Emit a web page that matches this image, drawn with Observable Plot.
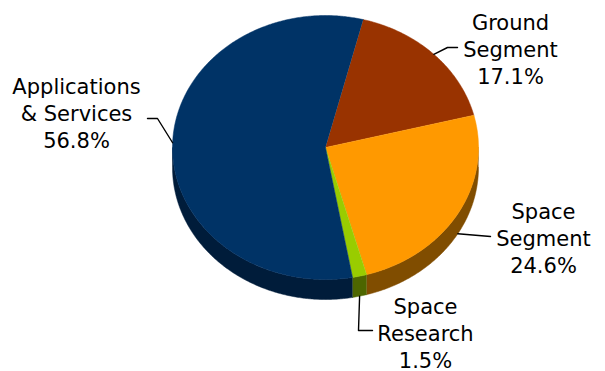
<!DOCTYPE html>
<html>
<head>
<meta charset="utf-8">
<script src="https://cdn.jsdelivr.net/npm/d3@7"></script>
<script src="https://cdn.jsdelivr.net/npm/@observablehq/plot@0.6"></script>
<style>
  html, body { margin: 0; padding: 0; background: #fff; }
</style>
</head>
<body>
<div id="chart"></div>
<script>
// ---- data ----
const categories = ["Ground Segment", "Space Segment", "Space Research", "Applications & Services"];
const shares = [17.1, 24.6, 1.5, 56.8];
const labelNames = ["Ground\nSegment", "Space\nSegment", "Space\nResearch", "Applications\n& Services"];
const topColors = ["#993300", "#FF9900", "#99CC00", "#003366"];
const sideColors = ["#4D1A00", "#804D00", "#4D6600", "#001C3A"];

// ---- layout ----
const W = 605, H = 371;
const cx = 325, cy = 147, rx = 153, ry = 132, depth = 20;
const startAngle = 14.3; // degrees clockwise from 12 o'clock
// label centre and leader elbow/end per slice (layout only)
const labelPos = [[510, 48], [543, 237], [425, 332], [76, 112]];
const leaderBend = [[[447, 47], [457, 47]], [[490, 236]], [[358, 330], [372, 330]], [[157, 118], [147, 118]]];

function pt(deg, dy = 0) {
  const r = deg * Math.PI / 180;
  return [cx + rx * Math.sin(r), cy - ry * Math.cos(r) + dy];
}

const total = d3.sum(shares);
let acc = startAngle;
const slices = categories.map((c, i) => {
  const a0 = acc, a1 = acc + shares[i] / total * 360;
  acc = a1;
  return {c, i, a0, a1, mid: (a0 + a1) / 2};
});

function arcPts(a0, a1, dy = 0) {
  const n = Math.max(2, Math.ceil((a1 - a0) / 0.5));
  return d3.range(n + 1).map(k => pt(a0 + (a1 - a0) * k / n, dy));
}

const marks = [];
// sides (only front half, 90..270 deg)
for (const s of slices) {
  for (const off of [0, 360, -360]) {
    const b0 = Math.max(s.a0 + off, 90), b1 = Math.min(s.a1 + off, 270);
    if (b1 > b0) {
      const poly = [...arcPts(b0, b1), ...arcPts(b0, b1, depth).reverse()];
      marks.push(Plot.line(poly, {x: d => d[0], y: d => d[1], fill: sideColors[s.i], stroke: sideColors[s.i], strokeWidth: 0.5}));
    }
  }
}
// top faces
for (const s of slices) {
  const poly = [[cx, cy], ...arcPts(s.a0, s.a1)];
  marks.push(Plot.line(poly, {x: d => d[0], y: d => d[1], fill: topColors[s.i], stroke: topColors[s.i], strokeWidth: 0.5}));
}
// leaders
for (const s of slices) {
  let m = ((s.mid % 360) + 360) % 360;
  const front = m > 90 && m < 270;
  const start = pt(m, front ? depth : 0);
  const pts = [start, ...leaderBend[s.i]];
  marks.push(Plot.line(pts, {x: d => d[0], y: d => d[1], stroke: "#000", strokeWidth: 1.4}));
}
// labels
const labels = slices.map(s => ({
  x: labelPos[s.i][0], y: labelPos[s.i][1],
  text: labelNames[s.i] + "\n" + shares[s.i].toFixed(1) + "%"
}));
marks.push(Plot.text(labels, {x: "x", y: "y", text: "text", fontSize: 21, lineHeight: 1.27, fontFamily: "DejaVu Sans", fill: "#000", textAnchor: "middle"}));

const chart = Plot.plot({
  width: W, height: H,
  margin: 0,
  x: {domain: [0, W], range: [0, W], axis: null},
  y: {domain: [0, H], range: [0, H], axis: null},
  marks
});
document.getElementById("chart").appendChild(chart);
</script>
</body>
</html>
